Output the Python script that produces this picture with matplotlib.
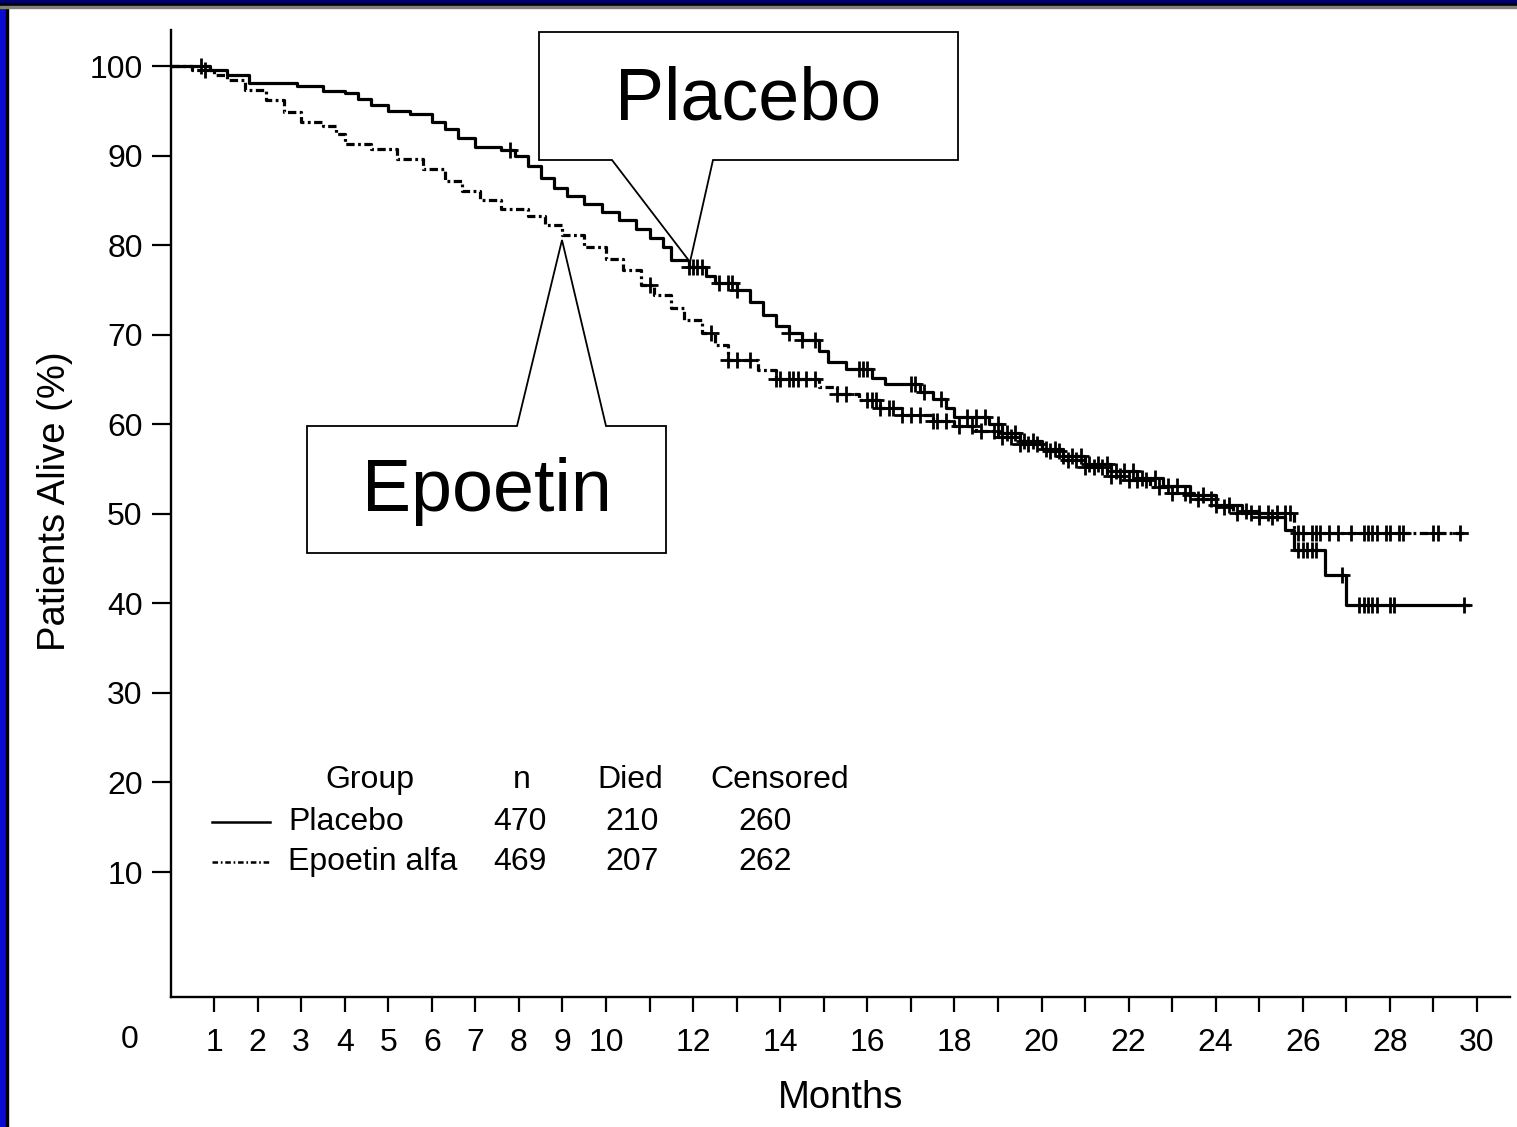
import numpy as np
import matplotlib.pyplot as plt
from matplotlib.patches import Polygon, Rectangle
from matplotlib.lines import Line2D

plt.rcParams['font.family'] = ['Liberation Sans', 'DejaVu Sans']
plt.rcParams['lines.scale_dashes'] = False

# Kaplan-Meier steps (months, % alive after the step)
placebo_t = [0, 0.9, 1.3, 1.8, 2.9, 3.5, 4.0, 4.3, 4.6, 5.0, 5.5, 6.0, 6.3, 6.6, 7.0, 7.6,
             7.9, 8.2, 8.5, 8.8, 9.1, 9.5, 9.9, 10.3, 10.7, 11.0, 11.3, 11.5, 11.9, 12.3,
             12.5, 13.0, 13.3, 13.6, 13.9, 14.2, 14.5, 14.9, 15.1, 15.5, 16.1, 16.4, 17.2,
             17.5, 17.8, 18.0, 18.8, 19.1, 19.5, 20.0, 20.5, 21.0, 21.6, 22.2, 22.8, 23.4,
             24.0, 24.6, 25.0, 25.6, 25.8, 26.5, 27.0]
placebo_s = [100, 99.6, 99.0, 98.1, 97.8, 97.2, 97.0, 96.3, 95.6, 95.0, 94.6, 93.8, 93.0,
             92.0, 91.0, 90.6, 89.9, 88.8, 87.5, 86.4, 85.5, 84.6, 83.7, 82.8, 81.8, 80.8,
             79.8, 78.3, 77.6, 76.6, 75.8, 75.0, 73.6, 72.2, 71.0, 70.2, 69.4, 68.2, 67.0,
             66.2, 65.2, 64.5, 63.6, 62.8, 61.8, 60.8, 60.0, 59.0, 58.1, 57.2, 56.4, 55.6,
             54.8, 54.0, 53.1, 52.1, 51.0, 50.3, 49.6, 48.2, 46.0, 43.2, 39.8]
placebo_end = 29.8
placebo_cens = [0.7, 7.8, 11.9, 12.0, 12.1, 12.2, 12.6, 12.8, 12.9, 13.0, 14.2, 14.5, 14.8,
                15.8, 15.9, 16.0, 17.0, 17.1, 17.3, 17.7, 18.3, 18.5, 18.7, 19.0, 19.2, 19.4,
                19.6, 19.8, 20.1, 20.3, 20.5, 20.7, 20.9, 21.1, 21.3, 21.5, 21.7, 21.9, 22.1,
                22.3, 22.6, 22.9, 23.1, 23.4, 23.7, 24.0, 24.3, 24.7, 25.0, 25.3, 25.9, 26.0,
                26.1, 26.2, 26.3, 26.9, 27.3, 27.4, 27.5, 27.6, 27.7, 28.0, 28.1, 29.7]

epoetin_t = [0, 0.5, 1.0, 1.3, 1.7, 2.2, 2.6, 3.0, 3.5, 3.8, 4.0, 4.6, 5.2, 5.8, 6.3, 6.7,
             7.1, 7.6, 8.2, 8.6, 9.0, 9.5, 10.0, 10.4, 10.8, 11.1, 11.5, 11.8, 12.2, 12.5,
             12.8, 13.5, 13.9, 14.9, 15.3, 15.8, 16.3, 16.8, 17.5, 18.0, 18.5, 19.0, 19.5,
             20.0, 20.5, 21.0, 21.5, 22.0, 22.5, 23.0, 23.5, 24.0, 24.4, 25.8]
epoetin_s = [100, 99.6, 99.0, 98.4, 97.3, 96.2, 94.9, 93.8, 93.3, 92.4, 91.3, 90.7, 89.6,
             88.5, 87.2, 86.0, 85.0, 84.0, 83.3, 82.3, 81.1, 79.8, 78.5, 77.2, 75.6, 74.4,
             73.0, 71.6, 70.2, 68.8, 67.2, 66.1, 65.0, 64.2, 63.4, 62.7, 61.8, 61.0, 60.4,
             59.8, 59.2, 58.6, 57.8, 57.0, 56.0, 55.2, 54.2, 53.8, 53.0, 52.3, 51.6, 50.8,
             50.1, 47.9]
epoetin_end = 29.8
epoetin_cens = [0.8, 11.0, 12.4, 12.8, 13.0, 13.3, 13.9, 14.0, 14.2, 14.3, 14.4, 14.6, 14.8,
                15.3, 15.5, 16.0, 16.1, 16.2, 16.3, 16.5, 16.6, 16.8, 17.0, 17.2, 17.5, 17.6,
                17.8, 18.1, 18.4, 18.6, 18.9, 19.1, 19.3, 19.5, 19.7, 19.9, 20.2, 20.4, 20.6,
                20.8, 21.0, 21.2, 21.4, 21.6, 21.8, 22.0, 22.2, 22.4, 22.7, 23.0, 23.3, 23.6,
                23.9, 24.2, 24.5, 24.8, 25.0, 25.2, 25.4, 25.6, 25.7, 25.9, 26.0, 26.2, 26.3,
                26.4, 26.6, 26.8, 27.1, 27.4, 27.5, 27.6, 27.7, 27.9, 28.0, 28.2, 28.3, 29.0,
                29.1, 29.6]

groups = ['Placebo', 'Epoetin alfa']
n_pat = [470, 469]
died = [210, 207]
censored = [260, 262]

x_ticks = list(range(1, 31))
x_labels = [str(v) if (v <= 10 or v % 2 == 0) else '' for v in x_ticks]
y_ticks = list(range(10, 101, 10))

W, H = 1517, 1127


def px(x, y):
    return x / W, 1 - y / H


def step_at(t, s, times):
    t = np.asarray(t)
    s = np.asarray(s)
    return s[np.searchsorted(t, times, side='right') - 1]


fig = plt.figure(figsize=(W / 100, H / 100), dpi=100)
fig.patch.set_facecolor('white')

ax = fig.add_axes([170.5 / W, 1 - 997 / H, (1510 - 170.5) / W, (997 - 30) / H])
ax.set_xlim(0, (1510 - 170.5) / 43.55)
ax.set_ylim(100 - 931 / 8.956, 100 + 36 / 8.956)
for sp in ['top', 'right']:
    ax.spines[sp].set_visible(False)
for sp in ['left', 'bottom']:
    ax.spines[sp].set_linewidth(1.7)

# placebo
pt = placebo_t + [placebo_end]
ps = placebo_s + [placebo_s[-1]]
ax.step(pt, ps, where='post', color='black', lw=2.3)
ax.plot(placebo_cens, step_at(placebo_t, placebo_s, placebo_cens), '+', color='black',
        ms=11, mew=2.0)

# epoetin
et = epoetin_t + [epoetin_end]
es = epoetin_s + [epoetin_s[-1]]
ax.step(et, es, where='post', color='black', lw=2.3, dashes=(6, 2.5, 2, 2.5))
ax.plot(epoetin_cens, step_at(epoetin_t, epoetin_s, epoetin_cens), '+', color='black',
        ms=11, mew=2.0)

ax.set_xticks(x_ticks)
ax.set_xticklabels(x_labels)
ax.set_yticks(y_ticks)
ax.tick_params(axis='y', length=14, width=1.6, labelsize=23, pad=6)
ax.tick_params(axis='x', length=11, width=1.6, labelsize=23, pad=11)
ax.set_ylabel('Patients Alive (%)', fontsize=27.5)
ax.yaxis.set_label_coords(-0.073, (997 - 501) / 967)
ax.set_xlabel('Months', fontsize=27.5, labelpad=16)
fig.text(*px(130, 1040), '0', fontsize=23, ha='center', va='center')

# group table
fs = 23
fig.text(*px(370, 780), 'Group', fontsize=fs, ha='center', va='center')
fig.text(*px(522, 780), 'n', fontsize=fs, ha='center', va='center')
fig.text(*px(630, 780), 'Died', fontsize=fs, ha='center', va='center')
fig.text(*px(780, 780), 'Censored', fontsize=fs, ha='center', va='center')
rows_y = [822, 862]
styles = [dict(), dict(dashes=(4, 2, 1.2, 2))]
for i, g in enumerate(groups):
    yy = rows_y[i]
    x0, y0 = px(212, yy)
    x1, _ = px(270, yy)
    fig.add_artist(Line2D([x0, x1], [y0, y0], color='black', lw=1.8,
                          transform=fig.transFigure, **styles[i]))
    fig.text(*px(288, yy), g, fontsize=fs, ha='left', va='center')
    fig.text(*px(520, yy), str(n_pat[i]), fontsize=fs, ha='center', va='center')
    fig.text(*px(632, yy), str(died[i]), fontsize=fs, ha='center', va='center')
    fig.text(*px(765, yy), str(censored[i]), fontsize=fs, ha='center', va='center')

# callouts
plac_box = [(539, 32), (958, 32), (958, 160), (713, 160), (690, 262), (612, 160), (539, 160)]
epo_box = [(307, 426), (517, 426), (562, 240), (606, 426), (666, 426), (666, 553), (307, 553)]
for pts, label, c in [(plac_box, 'Placebo', (748, 100)), (epo_box, 'Epoetin', (487, 492))]:
    poly = Polygon([px(*p) for p in pts], closed=True, facecolor='white', edgecolor='black',
                   lw=1.3, transform=fig.transFigure, zorder=5)
    fig.add_artist(poly)
    fig.text(*px(*c), label, fontsize=53, ha='center', va='center', zorder=6)

# slide frame
fig.add_artist(Rectangle((0, 0), 6 / W, 1, color='#0a0ad0', transform=fig.transFigure, zorder=10))
fig.add_artist(Rectangle((6 / W, 0), 2 / W, 1, color='black', transform=fig.transFigure, zorder=10))
fig.add_artist(Rectangle((0, 1 - 3 / H), 1, 3 / H, color='#000070', transform=fig.transFigure, zorder=10))
fig.add_artist(Rectangle((0, 1 - 6 / H), 1, 3 / H, color='black', transform=fig.transFigure, zorder=10))
fig.add_artist(Rectangle((0, 1 - 8 / H), 1, 2 / H, color='#808080', transform=fig.transFigure, zorder=10))

fig.savefig('out.png', dpi=100)
